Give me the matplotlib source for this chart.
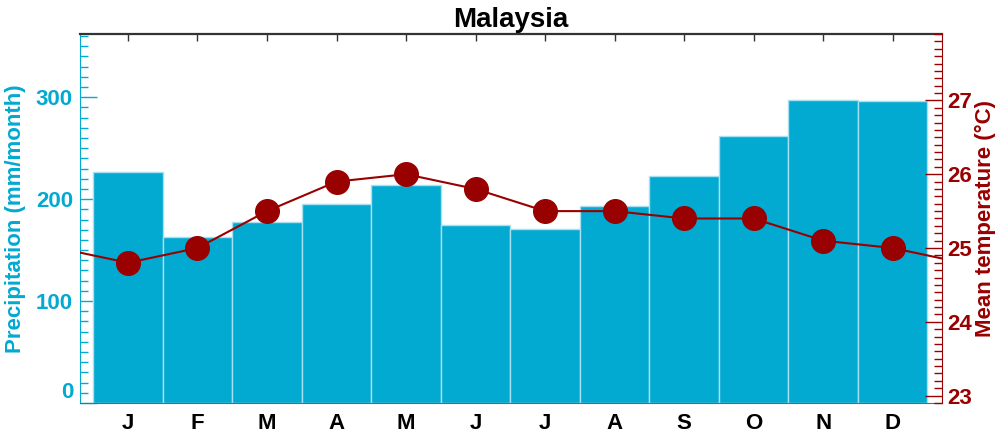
"""Malaysia climate chart: monthly precipitation (bars) and mean temperature (line)."""

import matplotlib

matplotlib.use("Agg")
import matplotlib.pyplot as plt
from matplotlib.ticker import MultipleLocator

plt.rcParams["font.family"] = ["Liberation Sans", "DejaVu Sans"]
plt.rcParams["font.weight"] = "bold"

MONTHS = ["J", "F", "M", "A", "M", "J", "J", "A", "S", "O", "N", "D"]
PRECIP = [227, 163, 178, 195, 214, 175, 171, 193, 223, 262, 297, 296]  # mm/month
TEMP = [24.8, 25.0, 25.5, 25.9, 26.0, 25.8, 25.5, 25.5, 25.4, 25.4, 25.1, 25.0]  # degC
PRECIP_TICKS = [0, 100, 200, 300]
TEMP_TICKS = [23, 24, 25, 26, 27]

BLUE = "#02a9d1"
RED = "#990000"

fig = plt.figure(figsize=(10, 4.34), dpi=100)
ax = fig.add_axes([0.080, 0.0714, 0.862, 0.8503])
x = list(range(len(MONTHS)))

ax.bar(x, PRECIP, width=1.0, color=BLUE, edgecolor="#a6e0f1", linewidth=1.0, zorder=2)
ax.set_xlim(-0.69, 11.71)
ax.set_ylim(0, 362)
ax.set_xticks(x)
ax.set_xticklabels(MONTHS, fontsize=16, fontweight="bold")
ax.set_yticks(PRECIP_TICKS)
ax.set_yticklabels([str(v) for v in PRECIP_TICKS], fontsize=16, fontweight="bold")
ax.yaxis.set_minor_locator(MultipleLocator(10))
ax.tick_params(axis="y", which="major", direction="in", length=12, width=1,
               colors=BLUE, pad=5)
ax.tick_params(axis="y", which="minor", direction="in", length=6, width=1, colors=BLUE)
ax.tick_params(axis="x", which="major", direction="in", length=5, width=1,
               color="#333333", pad=7, top=True)
# the 0 label sits on top of the axis line, not centred on it
ax.get_yticklabels()[0].set_verticalalignment("bottom")
ax.set_ylabel("Precipitation (mm/month)", color=BLUE, fontsize=16,
              fontweight="bold", labelpad=7)
ax.spines["left"].set_color(BLUE)
ax.spines["bottom"].set_color("#666666")
ax.spines["top"].set_color("#333333")
ax.spines["top"].set_linewidth(1.6)
ax.spines["right"].set_visible(False)

ax2 = ax.twinx()
# wrap the annual cycle so the line runs out to both edges
ax2.plot([-1] + x + [len(x)], [TEMP[-1]] + TEMP + [TEMP[0]], color=RED, lw=1.5, zorder=3)
ax2.plot(x, TEMP, "o", color=RED, markersize=17, zorder=4)
ax2.set_ylim(22.9, 27.9)
ax2.set_yticks(TEMP_TICKS)
ax2.set_yticklabels([str(v) for v in TEMP_TICKS], fontsize=16, fontweight="bold")
ax2.yaxis.set_minor_locator(MultipleLocator(0.1))
ax2.tick_params(axis="y", which="major", direction="in", length=12, width=1,
                colors=RED, pad=4)
ax2.tick_params(axis="y", which="minor", direction="in", length=6, width=1, colors=RED)
ax2.set_ylabel("Mean temperature (°C)", color=RED, fontsize=16,
               fontweight="bold", labelpad=2)
ax2.spines["right"].set_color(RED)
ax2.spines["left"].set_visible(False)
ax2.spines["top"].set_visible(False)
ax2.spines["bottom"].set_visible(False)

ax.set_title("Malaysia", fontsize=20, fontweight="bold", pad=5)

fig.savefig("out.png", dpi=100)
